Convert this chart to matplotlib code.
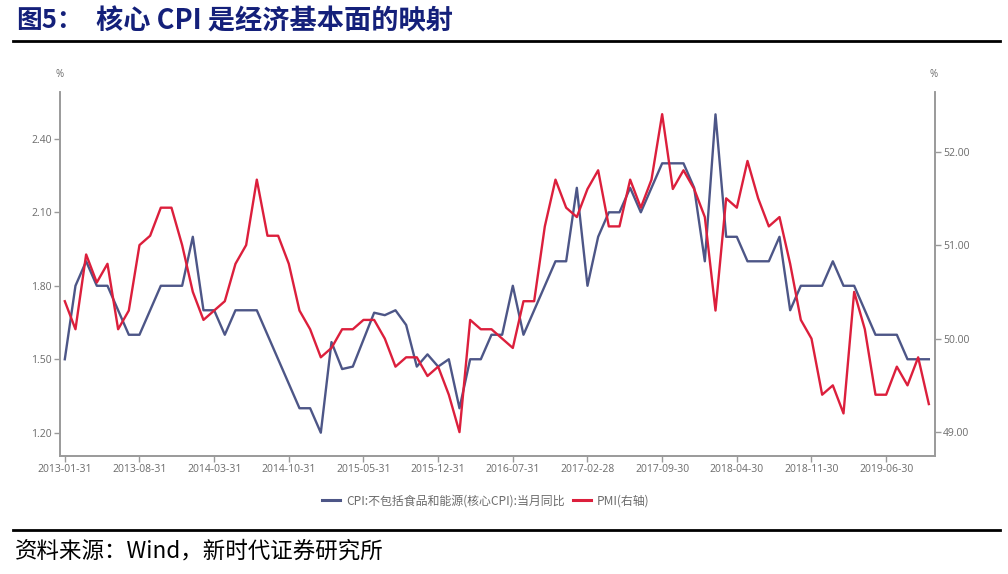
import matplotlib
matplotlib.use("Agg")
import matplotlib.pyplot as plt
import numpy as np
import pandas as pd
from matplotlib.lines import Line2D

# ---------------- data ----------------
dates = pd.date_range("2013-01-31", "2019-10-31", freq="ME")

core_cpi = [
    1.50, 1.80, 1.90, 1.80, 1.80, 1.70, 1.60, 1.60, 1.70, 1.80, 1.80, 1.80,   # 2013
    2.00, 1.70, 1.70, 1.60, 1.70, 1.70, 1.70, 1.60, 1.50, 1.40, 1.30, 1.30,   # 2014
    1.20, 1.57, 1.46, 1.47, 1.58, 1.69, 1.68, 1.70, 1.64, 1.47, 1.52, 1.47,   # 2015
    1.50, 1.30, 1.50, 1.50, 1.60, 1.60, 1.80, 1.60, 1.70, 1.80, 1.90, 1.90,   # 2016
    2.20, 1.80, 2.00, 2.10, 2.10, 2.20, 2.10, 2.20, 2.30, 2.30, 2.30, 2.20,   # 2017
    1.90, 2.50, 2.00, 2.00, 1.90, 1.90, 1.90, 2.00, 1.70, 1.80, 1.80, 1.80,   # 2018
    1.90, 1.80, 1.80, 1.70, 1.60, 1.60, 1.60, 1.50, 1.50, 1.50,               # 2019
]

pmi = [
    50.4, 50.1, 50.9, 50.6, 50.8, 50.1, 50.3, 51.0, 51.1, 51.4, 51.4, 51.0,   # 2013
    50.5, 50.2, 50.3, 50.4, 50.8, 51.0, 51.7, 51.1, 51.1, 50.8, 50.3, 50.1,   # 2014
    49.8, 49.9, 50.1, 50.1, 50.2, 50.2, 50.0, 49.7, 49.8, 49.8, 49.6, 49.7,   # 2015
    49.4, 49.0, 50.2, 50.1, 50.1, 50.0, 49.9, 50.4, 50.4, 51.2, 51.7, 51.4,   # 2016
    51.3, 51.6, 51.8, 51.2, 51.2, 51.7, 51.4, 51.7, 52.4, 51.6, 51.8, 51.6,   # 2017
    51.3, 50.3, 51.5, 51.4, 51.9, 51.5, 51.2, 51.3, 50.8, 50.2, 50.0, 49.4,   # 2018
    49.5, 49.2, 50.5, 50.1, 49.4, 49.4, 49.7, 49.5, 49.8, 49.3,               # 2019
]

left_ticks = [1.20, 1.50, 1.80, 2.10, 2.40]
right_ticks = [49.0, 50.0, 51.0, 52.0]
label_cpi = "CPI:不包括食品和能源(核心CPI):当月同比"
label_pmi = "PMI(右轴)"
title_a = "图5："
title_b = "核心 CPI 是经济基本面的映射"
source = "资料来源：Wind，新时代证券研究所"

# ---------------- style ----------------
W, H = 1008, 574
fig = plt.figure(figsize=(W / 100, H / 100), dpi=100)
CJK = ["Noto Sans CJK SC", "DejaVu Sans"]
BLUE = "#4d5687"
RED = "#dc1f3c"
GRAY = "#9a9a9a"
TXT = "#6b6b6b"

def px(x0, y0, x1, y1):
    return [x0 / W, 1 - y1 / H, (x1 - x0) / W, (y1 - y0) / H]

ax = fig.add_axes(px(60, 92.3, 934.7, 455.5))
ax2 = ax.twinx()

xs = np.arange(len(dates))
ax.plot(xs, core_cpi, color=BLUE, lw=1.7, zorder=3)
ax2.plot(xs, pmi, color=RED, lw=1.7, zorder=3)

ax.set_xlim(-0.45, len(dates) - 1 + 0.55)
ax.set_ylim(1.107, 2.59)
ax2.set_ylim(48.75, 52.634)

tick_idx = list(range(0, len(dates), 7))
ax.set_xticks(tick_idx)
ax.set_xticklabels([dates[i].strftime("%Y-%m-%d") for i in tick_idx])
ax.set_yticks(left_ticks)
ax.set_yticklabels([f"{v:.2f}" for v in left_ticks])
ax2.set_yticks(right_ticks)
ax2.set_yticklabels([f"{v:.2f}" for v in right_ticks])

for a in (ax, ax2):
    a.spines["top"].set_visible(False)
    for s in ("left", "right", "bottom"):
        a.spines[s].set_color(GRAY)
        a.spines[s].set_linewidth(1.2)
    a.tick_params(colors=GRAY, labelcolor=TXT, labelsize=7.5, length=4, width=1, pad=2)
    for lab in a.get_xticklabels() + a.get_yticklabels():
        lab.set_family(["Open Sans", "DejaVu Sans"])
ax.patch.set_visible(False)

fig.text(59.5 / W, 1 - 74 / H, "%", fontsize=7, color=TXT, ha="center", va="center",
         family=["Open Sans", "DejaVu Sans"])
fig.text(934 / W, 1 - 74 / H, "%", fontsize=7, color=TXT, ha="center", va="center",
         family=["Open Sans", "DejaVu Sans"])

# legend
handles = [Line2D([0], [0], color=BLUE, lw=2.2), Line2D([0], [0], color=RED, lw=2.2)]
leg = fig.legend(handles, [label_cpi, label_pmi], loc="center", bbox_to_anchor=(486 / W, 1 - 501 / H),
                 ncol=2, frameon=False, handlelength=1.5, handletextpad=0.5, columnspacing=0.7,
                 prop={"family": CJK, "size": 8.6})
for t in leg.get_texts():
    t.set_color(TXT)

# title and rules
fig.text(16 / W, 1 - 21 / H, title_a, fontsize=18.5, fontweight="bold", color="#14207a",
         ha="left", va="center", family=CJK)
fig.text(96 / W, 1 - 21 / H, title_b, fontsize=19.6, fontweight="bold", color="#14207a",
         ha="left", va="center", family=CJK)
fig.add_artist(Line2D([13 / W, 1000 / W], [1 - 41 / H, 1 - 41 / H], color="black", lw=2))
fig.add_artist(Line2D([13 / W, 1000 / W], [1 - 530 / H, 1 - 530 / H], color="black", lw=2))
fig.text(15 / W, 1 - 551 / H, source, fontsize=16.2, color="black", ha="left", va="center", family=CJK)

fig.savefig("out.png", dpi=100)
